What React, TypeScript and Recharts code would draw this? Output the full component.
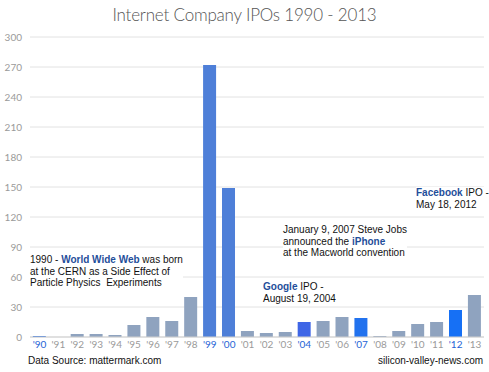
import { BarChart, Bar, XAxis, YAxis, CartesianGrid, Cell } from "recharts";

const years = ["'90", "'91", "'92", "'93", "'94", "'95", "'96", "'97", "'98", "'99", "'00", "'01", "'02", "'03", "'04", "'05", "'06", "'07", "'08", "'09", "'10", "'11", "'12", "'13"];
const ipos = [1, 0, 3, 3, 2, 12, 20, 16, 40, 272, 149, 6, 4, 5, 15, 16, 20, 19, 1, 6, 13, 15, 27, 42];
const yTicks = [0, 30, 60, 90, 120, 150, 180, 210, 240, 270, 300];

// highlighted years get their own blue
const highlight: Record<string, string> = {
  "'90": "#2a6fe0",
  "'99": "#4e7fd8",
  "'00": "#4e7fd8",
  "'04": "#3f66e6",
  "'07": "#2272ee",
  "'12": "#1670f5",
};
const baseColor = "#8fa3bf";

const data = years.map((y, i) => ({ year: y, count: ipos[i] }));

const note: React.CSSProperties = {
  position: "absolute",
  fontFamily: "'Liberation Sans', Arial, sans-serif",
  fontSize: 10,
  lineHeight: "11.7px",
  color: "#111",
  background: "#fff",
  whiteSpace: "nowrap",
};
const hl: React.CSSProperties = { color: "#1f4e9a", fontWeight: "bold" };

function YearTick(props: any) {
  const { x, y, payload } = props;
  const c = highlight[payload.value];
  return (
    <text x={x} y={y + 3} textAnchor="middle" fontSize={10} fontFamily="Lato, sans-serif" fill={c ? "#2563d6" : "#9a9a9a"}>
      {payload.value}
    </text>
  );
}

export default function App() {
  return (
    <div style={{ position: "absolute", left: 0, top: 0, width: 489, height: 372, background: "#fff" }}>
      <div
        style={{
          position: "absolute",
          left: 0,
          top: 4,
          width: 489,
          textAlign: "center",
          fontFamily: "Lato, sans-serif",
          fontWeight: 300,
          fontSize: 17,
          letterSpacing: -0.2,
          color: "#555",
        }}
      >
        Internet Company IPOs 1990 - 2013
      </div>
      <BarChart width={489} height={372} data={data} margin={{ top: 37, right: 5, left: 0, bottom: 15 }} barCategoryGap="15%">
        <CartesianGrid vertical={false} stroke="#e2e2e2" />
        <XAxis dataKey="year" interval={0} tickLine={false} axisLine={{ stroke: "#cfcfcf" }} tick={<YearTick />} height={20} />
        <YAxis
          domain={[0, 300]}
          ticks={yTicks}
          width={30}
          axisLine={false}
          tickLine={false}
          tick={{ fontSize: 10, fill: "#9a9a9a", fontFamily: "Lato, sans-serif" }}
        />
        <Bar dataKey="count" isAnimationActive={false}>
          {data.map((d) => (
            <Cell key={d.year} fill={highlight[d.year] || baseColor} />
          ))}
        </Bar>
      </BarChart>

      <div style={{ ...note, left: 30, top: 254 }}>
        1990 - <span style={hl}>World Wide Web</span> was born
        <br />
        at the CERN as a Side Effect of
        <br />
        Particle Physics&nbsp; Experiments
      </div>
      <div style={{ ...note, left: 263, top: 281 }}>
        <span style={hl}>Google</span> IPO -
        <br />
        August 19, 2004
      </div>
      <div style={{ ...note, left: 283, top: 224 }}>
        January 9, 2007 Steve Jobs
        <br />
        announced the <span style={hl}>iPhone</span>
        <br />
        at the Macworld convention
      </div>
      <div style={{ ...note, left: 416, top: 187 }}>
        <span style={hl}>Facebook</span> IPO -
        <br />
        May 18, 2012
      </div>
      <div style={{ ...note, left: 28, top: 355, background: "transparent" }}>Data Source: mattermark.com</div>
      <div style={{ ...note, left: 378, top: 355, background: "transparent" }}>silicon-valley-news.com</div>
    </div>
  );
}
